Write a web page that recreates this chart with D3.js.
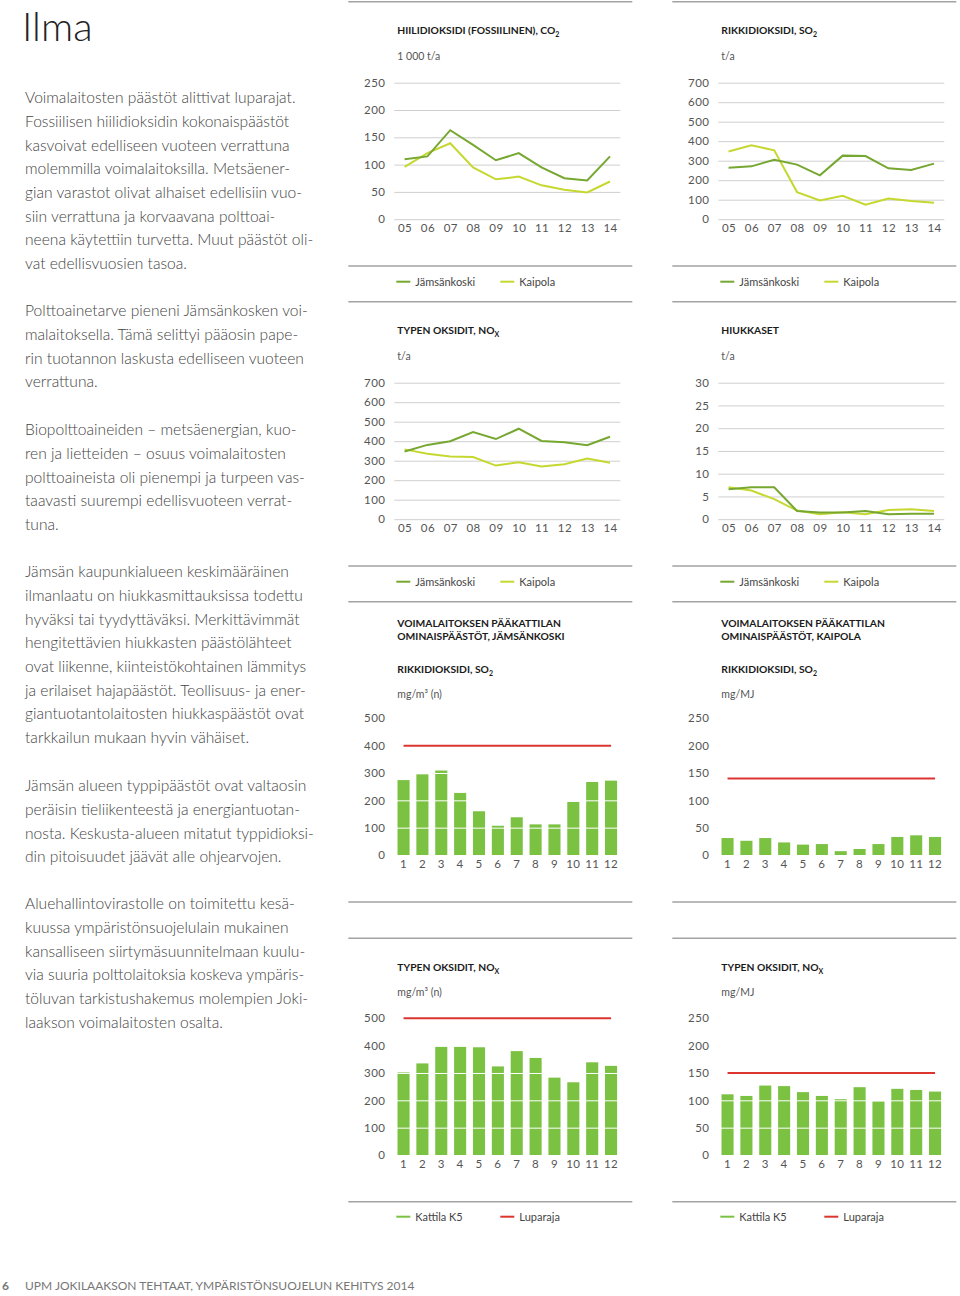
<!DOCTYPE html>
<html>
<head>
<meta charset="utf-8">
<script src="https://cdn.jsdelivr.net/npm/d3@7"></script>
<style>
body { margin: 0; background: #fff; }
svg text { font-family: Lato, "Open Sans", sans-serif; }
.body-text { font-size: 15.6px; font-weight: 300; fill: #444; }
.page-title { font-size: 40px; font-weight: 300; fill: #222; }
.footer { font-size: 12px; font-weight: 400; fill: #777; }
.ctitle { font-size: 10.3px; font-weight: 700; fill: #1a1a1a; }
.unit { font-size: 10.5px; fill: #555; }
.tick text { font-size: 11.5px; fill: #555; font-family: Lato, sans-serif; letter-spacing: 0.4px; }
.grid .tick line { stroke: #cfcfcf; stroke-width: 1; }
.wgrid .tick line { stroke: #fff; stroke-width: 1; }
.sep { stroke: #a3a3a3; stroke-width: 1.5; }
.legend { font-size: 11px; fill: #444; }
</style>
</head>
<body>
<svg id="page" width="960" height="1296"></svg>
<script>
// vuodet ja kuukaudet
var years = ["05", "06", "07", "08", "09", "10", "11", "12", "13", "14"];
var months = ["1", "2", "3", "4", "5", "6", "7", "8", "9", "10", "11", "12"];

// päästöt vuosittain
var co2Jamsankoski = [110, 115, 163, 136, 108, 121, 95, 75, 71, 115];
var co2Kaipola     = [96, 121, 139, 95, 73, 78, 62, 54, 49, 69];
var so2Jamsankoski = [264, 271, 305, 280, 225, 326, 324, 261, 252, 285];
var so2Kaipola     = [347, 379, 353, 139, 96, 120, 74, 106, 93, 84];
var noxJamsankoski = [347, 381, 400, 447, 411, 464, 401, 394, 379, 423];
var noxKaipola     = [358, 336, 321, 319, 275, 292, 270, 282, 311, 290];
var hiukJamsankoski = [6.6, 7.0, 7.0, 1.8, 1.5, 1.5, 1.8, 1.1, 1.2, 1.2];
var hiukKaipola     = [7.0, 6.3, 4.4, 1.9, 1.1, 1.5, 1.1, 2.0, 2.2, 1.8];

// pääkattilan ominaispäästöt kuukausittain
var so2K5Jamsankoski = [274, 295, 309, 227, 160, 107, 138, 112, 112, 194, 267, 272];
var so2K5Kaipola     = [31, 26, 31, 23, 19, 20, 7, 11, 20, 33, 36, 33];
var noxK5Jamsankoski = [302, 335, 396, 396, 394, 324, 380, 355, 283, 266, 339, 326];
var noxK5Kaipola     = [111, 108, 127, 126, 115, 108, 102, 124, 98, 121, 119, 116];
var so2LimitJamsankoski = 400, so2LimitKaipola = 140;
var noxLimitJamsankoski = 500, noxLimitKaipola = 150;

// asteikot
var ticksCo2  = [0, 50, 100, 150, 200, 250];
var ticks700  = [0, 100, 200, 300, 400, 500, 600, 700];
var ticksHiuk = [0, 5, 10, 15, 20, 25, 30];
var ticks500  = [0, 100, 200, 300, 400, 500];
var ticks250  = [0, 50, 100, 150, 200, 250];

var paragraphs = [
  {y: 98, lines: ["Voimalaitosten päästöt alittivat luparajat.", "Fossiilisen hiilidioksidin kokonaispäästöt", "kasvoivat edelliseen vuoteen verrattuna", "molemmilla voimalaitoksilla. Metsäener-", "gian varastot olivat alhaiset edellisiin vuo-", "siin verrattuna ja korvaavana polttoai-", "neena käytettiin turvetta. Muut päästöt oli-", "vat edellisvuosien tasoa."]},
  {y: 311, lines: ["Polttoainetarve pieneni Jämsänkosken voi-", "malaitoksella. Tämä selittyi pääosin pape-", "rin tuotannon laskusta edelliseen vuoteen", "verrattuna."]},
  {y: 430, lines: ["Biopolttoaineiden – metsäenergian, kuo-", "ren ja lietteiden – osuus voimalaitosten", "polttoaineista oli pienempi ja turpeen vas-", "taavasti suurempi edellisvuoteen verrat-", "tuna."]},
  {y: 572, lines: ["Jämsän kaupunkialueen keskimääräinen", "ilmanlaatu on hiukkasmittauksissa todettu", "hyväksi tai tyydyttäväksi. Merkittävimmät", "hengitettävien hiukkasten päästölähteet", "ovat liikenne, kiinteistökohtainen lämmitys", "ja erilaiset hajapäästöt. Teollisuus- ja ener-", "giantuotantolaitosten hiukkaspäästöt ovat", "tarkkailun mukaan hyvin vähäiset."]},
  {y: 786, lines: ["Jämsän alueen typpipäästöt ovat valtaosin", "peräisin tieliikenteestä ja energiantuotan-", "nosta. Keskusta-alueen mitatut typpidioksi-", "din pitoisuudet jäävät alle ohjearvojen."]},
  {y: 904, lines: ["Aluehallintovirastolle on toimitettu kesä-", "kuussa ympäristönsuojelulain mukainen", "kansalliseen siirtymäsuunnitelmaan kuulu-", "via suuria polttolaitoksia koskeva ympäris-", "töluvan tarkistushakemus molempien Joki-", "laakson voimalaitosten osalta."]}
];

var cJams = "#76a731", cKaipola = "#c5d830", cBar = "#7bc142", cRed = "#dc3530";
var colW = 226;
var svg = d3.select("#page");

svg.append("text").attr("class", "page-title").attr("x", 22).attr("y", 41).text("Ilma");

paragraphs.forEach(function(p) {
  p.lines.forEach(function(l, i) {
    svg.append("text").attr("class", "body-text")
      .attr("x", 25).attr("y", p.y + i * 23.65).attr("dy", "0.35em").text(l);
  });
});

svg.append("text").attr("class", "footer").attr("x", 2).attr("y", 1290)
  .style("font-weight", 700).text("6");
svg.append("text").attr("class", "footer").attr("x", 25).attr("y", 1290)
  .text("UPM JOKILAAKSON TEHTAAT, YMPÄRISTÖNSUOJELUN KEHITYS 2014");

function sepLine(cx, y) {
  svg.append("line").attr("class", "sep")
    .attr("x1", cx - 46).attr("x2", cx + 238).attr("y1", y).attr("y2", y);
}

function title(x, y, main, sub) {
  var t = svg.append("text").attr("class", "ctitle").attr("x", x).attr("y", y).text(main);
  if (sub) t.append("tspan").attr("dy", 3).style("font-size", "7px").text(sub);
}

function legend(cx, y, names, colors) {
  var offs = [0, 104];
  names.forEach(function(n, i) {
    svg.append("line").attr("x1", cx + 2 + offs[i]).attr("x2", cx + 16 + offs[i])
      .attr("y1", y).attr("y2", y).attr("stroke", colors[i]).attr("stroke-width", 2);
    svg.append("text").attr("class", "legend").attr("x", cx + 21 + offs[i]).attr("y", y)
      .attr("dy", "0.35em").text(n);
  });
}

function lineChart(cx, top, main, sub, unit, ticks, a, b) {
  sepLine(cx, top);
  title(cx + 3, top + 32.5, main, sub);
  svg.append("text").attr("class", "unit").attr("x", cx + 3).attr("y", top + 58.5).text(unit);

  var y = d3.scaleLinear().domain([0, d3.max(ticks)]).range([top + 217.5, top + 81]);
  var x = d3.scalePoint().domain(years).range([cx, cx + colW]).padding(0.45);

  svg.append("g").attr("class", "grid").attr("transform", "translate(" + cx + ",0)")
    .call(d3.axisLeft(y).tickValues(ticks).tickSizeInner(-colW).tickSizeOuter(0).tickPadding(9))
    .call(g => g.select(".domain").remove());
  svg.append("g").attr("transform", "translate(0," + (top + 217.5) + ")")
    .call(d3.axisBottom(x).tickSize(0).tickPadding(5))
    .call(g => g.select(".domain").remove());

  var line = d3.line().x((d, i) => x(years[i])).y(d => y(d));
  svg.append("path").datum(b).attr("d", line).attr("fill", "none")
    .attr("stroke", cKaipola).attr("stroke-width", 2);
  svg.append("path").datum(a).attr("d", line).attr("fill", "none")
    .attr("stroke", cJams).attr("stroke-width", 2);

  sepLine(cx, top + 264.3);
  legend(cx, top + 280, ["Jämsänkoski", "Kaipola"], [cJams, cKaipola]);
}

function barChart(cx, top, heads, main, sub, unit, ticks, values, limit, gridTop, withLegend) {
  sepLine(cx, top);
  heads.forEach(function(h, i) {
    svg.append("text").attr("class", "ctitle").attr("x", cx + 3).attr("y", top + 25.6 + i * 12.7).text(h);
  });
  var tY = heads.length ? top + 71 : top + 32.5;
  title(cx + 3, tY, main, sub);
  svg.append("text").attr("class", "unit").attr("x", cx + 3).attr("y", tY + 25).text(unit);

  var y = d3.scaleLinear().domain([0, d3.max(ticks)]).range([gridTop + 136.7, gridTop]);
  var x = d3.scaleBand().domain(months).range([cx, cx + colW]).paddingInner(0.36).paddingOuter(0.17);

  svg.append("g").selectAll("rect").data(values).join("rect")
    .attr("x", (d, i) => x(months[i])).attr("width", x.bandwidth())
    .attr("y", d => y(d)).attr("height", d => y(0) - y(d)).attr("fill", cBar);

  svg.append("g").attr("class", "wgrid").attr("transform", "translate(" + cx + ",0)")
    .call(d3.axisLeft(y).tickValues(ticks).tickSizeInner(-colW).tickSizeOuter(0).tickPadding(9))
    .call(g => g.select(".domain").remove());
  svg.append("g").attr("transform", "translate(0," + (gridTop + 136.7) + ")")
    .call(d3.axisBottom(x).tickSize(0).tickPadding(5))
    .call(g => g.select(".domain").remove());

  svg.append("line")
    .attr("x1", x(months[0]) + x.bandwidth() / 2).attr("x2", x(months[11]) + x.bandwidth() / 2)
    .attr("y1", y(limit)).attr("y2", y(limit)).attr("stroke", cRed).attr("stroke-width", 2);

  if (withLegend) {
    sepLine(cx, top + 263.4);
    legend(cx, top + 278.4, ["Kattila K5", "Luparaja"], [cBar, cRed]);
  } else {
    sepLine(cx, top + 300.3);
  }
}

var L = 394.3, R = 718.3;

lineChart(L, 1.7, "HIILIDIOKSIDI (FOSSIILINEN), CO", "2", "1 000 t/a", ticksCo2, co2Jamsankoski, co2Kaipola);
lineChart(R, 1.7, "RIKKIDIOKSIDI, SO", "2", "t/a", ticks700, so2Jamsankoski, so2Kaipola);
lineChart(L, 301.7, "TYPEN OKSIDIT, NO", "X", "t/a", ticks700, noxJamsankoski, noxKaipola);
lineChart(R, 301.7, "HIUKKASET", null, "t/a", ticksHiuk, hiukJamsankoski, hiukKaipola);

barChart(L, 601.7, ["VOIMALAITOKSEN PÄÄKATTILAN", "OMINAISPÄÄSTÖT, JÄMSÄNKOSKI"], "RIKKIDIOKSIDI, SO", "2",
  "mg/m³ (n)", ticks500, so2K5Jamsankoski, so2LimitJamsankoski, 718.3, false);
barChart(R, 601.7, ["VOIMALAITOKSEN PÄÄKATTILAN", "OMINAISPÄÄSTÖT, KAIPOLA"], "RIKKIDIOKSIDI, SO", "2",
  "mg/MJ", ticks250, so2K5Kaipola, so2LimitKaipola, 718.3, false);
barChart(L, 938.3, [], "TYPEN OKSIDIT, NO", "X", "mg/m³ (n)", ticks500, noxK5Jamsankoski, noxLimitJamsankoski, 1018.3, true);
barChart(R, 938.3, [], "TYPEN OKSIDIT, NO", "X", "mg/MJ", ticks250, noxK5Kaipola, noxLimitKaipola, 1018.3, true);
</script>
</body>
</html>
